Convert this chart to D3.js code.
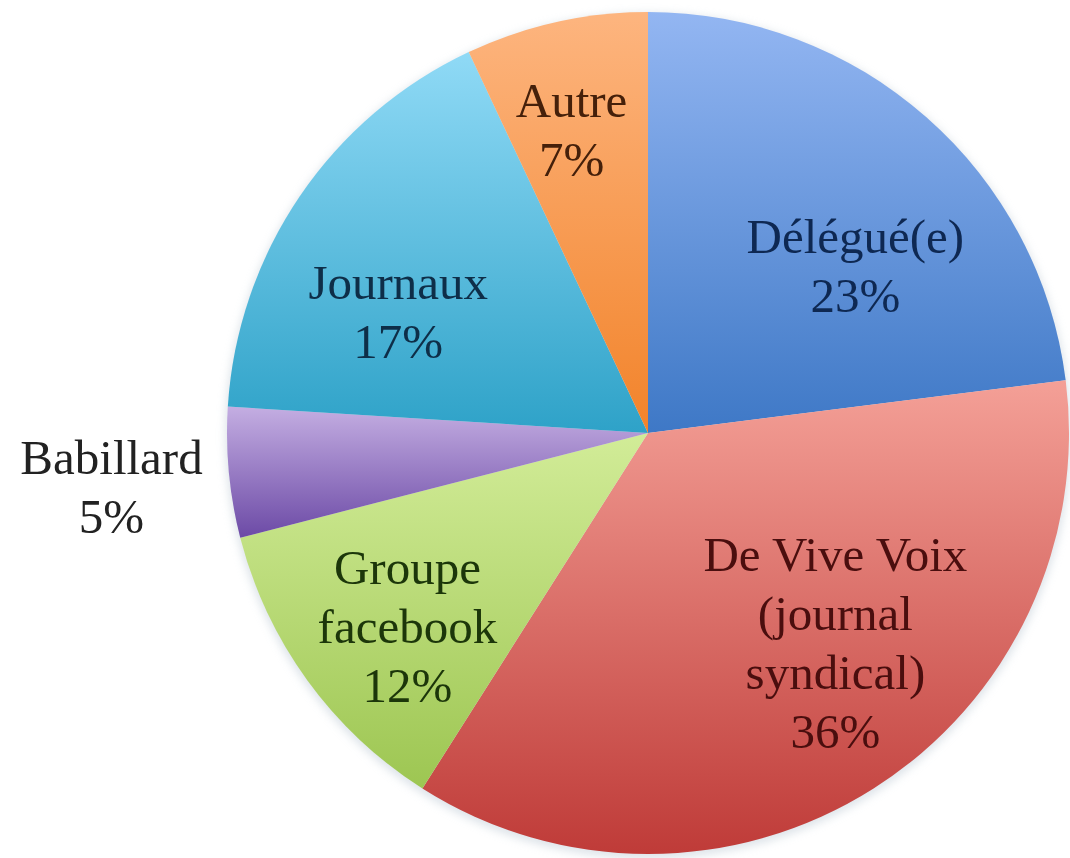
<!DOCTYPE html>
<html>
<head>
<meta charset="utf-8">
<script src="https://cdn.jsdelivr.net/npm/d3@7"></script>
<style>
  html, body { margin: 0; padding: 0; background: #fff; }
  svg { display: block; }
  .lbl { font-family: "Liberation Serif", "Times New Roman", serif; font-size: 49px; }
</style>
</head>
<body>
<div id="chart"></div>
<script>
// slice data, clockwise from 12 o'clock
var categories = ["Délégué(e)", "De Vive Voix (journal syndical)", "Groupe facebook", "Babillard", "Journaux", "Autre"];
var values = [23, 36, 12, 5, 17, 7];
// label lines (how the text wraps in the picture)
var labelLines = [["Délégué(e)"], ["De Vive Voix", "(journal", "syndical)"], ["Groupe", "facebook"], ["Babillard"], ["Journaux"], ["Autre"]];

// light (top) / dark (bottom) colours for each slice gradient
var lightColors = ["#93b6f2", "#f4a097", "#d2ec98", "#c4aee2", "#90daf6", "#fdb57f"];
var darkColors = ["#3e78c6", "#bf3b38", "#9dc652", "#6c4aa6", "#2ea2c8", "#f2832a"];
var textColors = ["#0e2852", "#4a0e0e", "#1c360a", "#222222", "#0e2e48", "#45200a"];
// nudge of each label away from its centroid (best-fit placement)
var labelNudge = [[18, 47], [34, -32], [-9, 25], [0, 3], [-13, 39], [-14, -24]];

var width = 1070, height = 858;
var cx = 648, cy = 433, radius = 421;
var lineHeight = 59;

var svg = d3.select("#chart").append("svg")
  .attr("width", width)
  .attr("height", height);

var defs = svg.append("defs");

// soft halo round the pie
defs.append("filter").attr("id", "halo")
  .attr("x", "-10%").attr("y", "-10%").attr("width", "120%").attr("height", "120%")
  .append("feGaussianBlur").attr("stdDeviation", 4);

values.forEach(function(v, i) {
  var g = defs.append("linearGradient")
    .attr("id", "grad" + i)
    .attr("x1", 0).attr("y1", 0).attr("x2", 0).attr("y2", 1);
  g.append("stop").attr("offset", "0%").attr("stop-color", lightColors[i]);
  g.append("stop").attr("offset", "100%").attr("stop-color", darkColors[i]);
});

var pie = d3.pie().sort(null).value(function(d) { return d; });
var arcs = pie(values);

var arc = d3.arc().innerRadius(0).outerRadius(radius);
var inLabelArc = d3.arc().innerRadius(radius * 0.68).outerRadius(radius * 0.68);
var outLabelArc = d3.arc().innerRadius(radius * 1.28).outerRadius(radius * 1.28);

var g = svg.append("g").attr("transform", "translate(" + cx + "," + cy + ")");

g.append("circle")
  .attr("r", radius + 2)
  .attr("cy", 3)
  .attr("fill", "#c9d3dc")
  .attr("opacity", 0.6)
  .attr("filter", "url(#halo)");

g.selectAll(".slice")
  .data(arcs)
  .enter().append("path")
    .attr("class", "slice")
    .attr("d", arc)
    .attr("fill", function(d, i) { return "url(#grad" + i + ")"; });

// labels: name lines + percentage line
var labels = g.selectAll(".lbl")
  .data(arcs)
  .enter().append("text")
    .attr("class", "lbl")
    .attr("text-anchor", "middle")
    .attr("fill", function(d, i) { return textColors[i]; })
    .attr("transform", function(d, i) {
      var pos = (d.value < 6 ? outLabelArc : inLabelArc).centroid(d);
      return "translate(" + (pos[0] + labelNudge[i][0]) + "," + (pos[1] + labelNudge[i][1]) + ")";
    });

labels.each(function(d, i) {
  var lines = labelLines[i].concat([d.value + "%"]);
  var first = -(lines.length - 1) * lineHeight / 2;
  var t = d3.select(this);
  lines.forEach(function(line, j) {
    t.append("tspan")
      .attr("x", 0)
      .attr("y", first + j * lineHeight)
      .attr("dy", "0.35em")
      .text(line);
  });
});
</script>
</body>
</html>
